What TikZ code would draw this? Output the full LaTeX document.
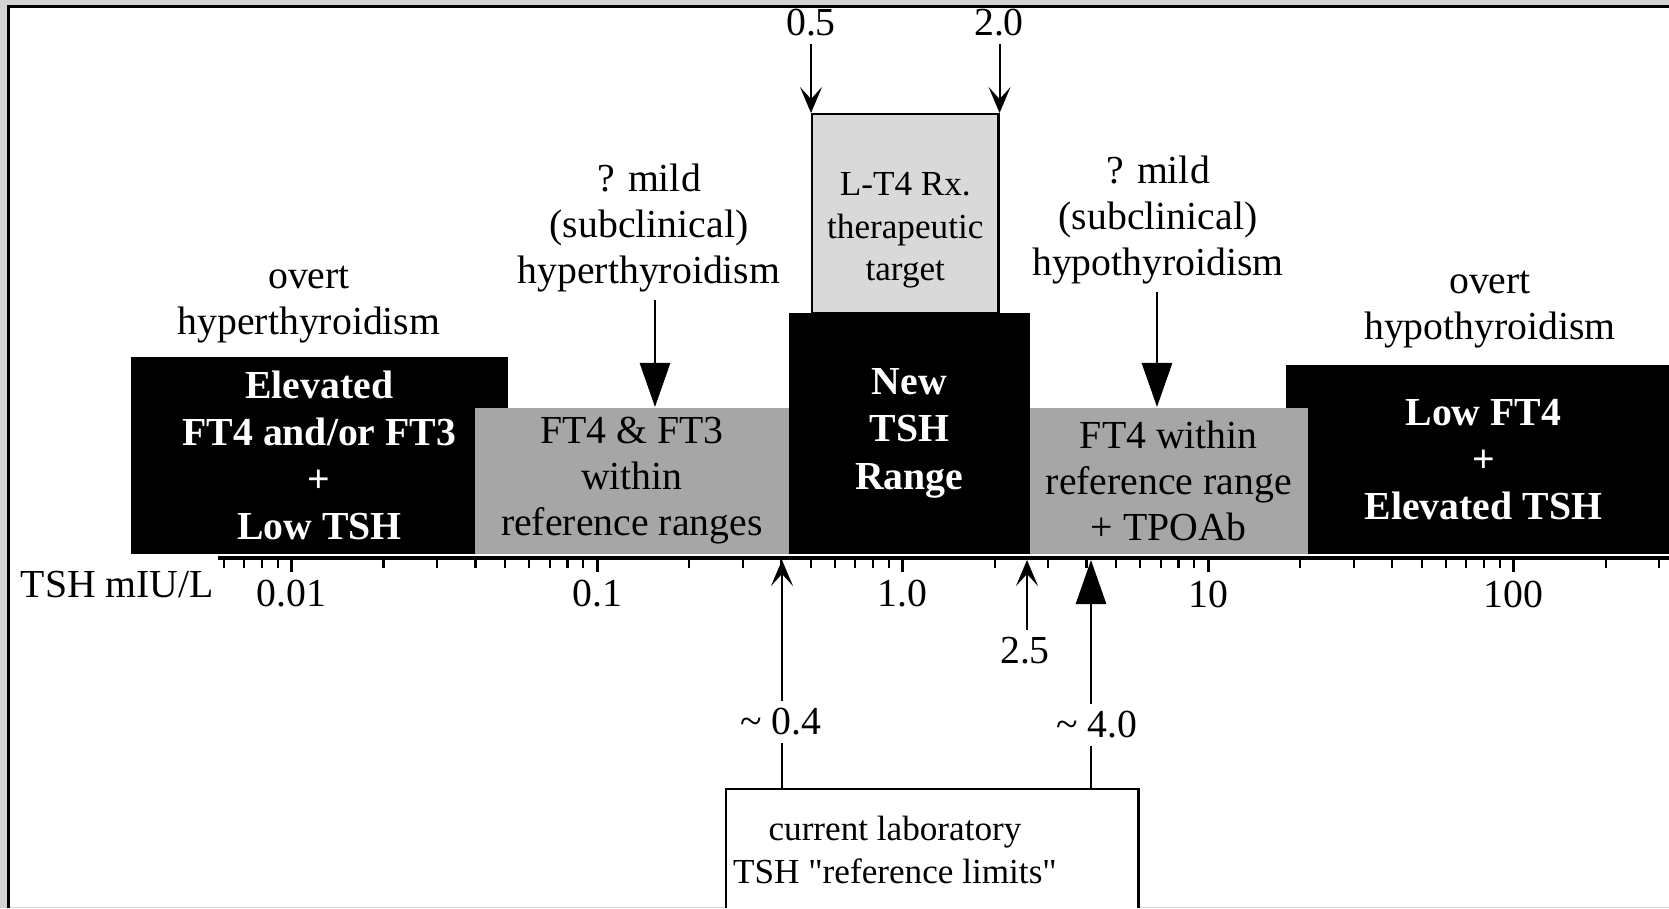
\documentclass[tikz,border=0pt]{standalone}
\usepackage{fontspec}
\setmainfont{Liberation Serif}
\usetikzlibrary{positioning,arrows.meta}
\definecolor{midgray}{gray}{0.65}
\definecolor{ltgray}{gray}{0.85}
\definecolor{framegray}{gray}{0.83}

\begin{document}
\begin{tikzpicture}[x=0.01cm,y=-0.01cm,
txt/.style={font=\fontsize{11.3}{13.1}\selectfont,align=center,inner sep=2pt},
box/.style={anchor=north west,inner sep=0pt,align=center},
blackbox/.style={box,fill=black,text=white,font=\fontsize{11.3}{13.4}\selectfont\bfseries},
graybox/.style={box,fill=midgray,font=\fontsize{11.3}{13.1}\selectfont},
thinarrow/.style={-{Stealth[length=2.6mm,width=2.2mm,inset=1.2mm]},line width=0.6pt},
bigarrow/.style={-{Triangle[length=4.4mm,width=3mm]},line width=0.8pt}]

% frame
\useasboundingbox (0,0) rectangle (1669,908);
\fill[framegray] (0,0) rectangle (1669,908);
\fill[white] (10,8) rectangle (1669,907);
\draw[line width=0.9pt] (8.5,908) -- (8.5,6.5) -- (1669,6.5);
\clip (10,8) rectangle (1669,907);

% range boxes
\node[blackbox,minimum width=3.77cm,minimum height=1.97cm] (hyper) at (130,356) {Elevated\\FT4 and/or FT3\\+\\Low TSH};
\node[blackbox,minimum width=3.95cm,minimum height=1.89cm] (hypo) at (1285,364) {Low FT4\\+\\Elevated TSH};
\node[graybox,minimum width=3.14cm,minimum height=1.46cm] (subhyper) at (474,407) {FT4 \& FT3\\within\\reference ranges};
\node[graybox,minimum width=2.78cm,minimum height=1.46cm] (subhypo) at (1029,407) {FT4 within\\reference range\\+ TPOAb};
\node[blackbox,minimum width=2.41cm,minimum height=2.41cm] (newrange) at (788,312) {New\\TSH\\Range};
\node[box,draw,line width=0.7pt,fill=ltgray,minimum width=1.86cm,minimum height=1.99cm,font=\fontsize{10}{12}\selectfont] (lt4) at (811,113) {\rule{0pt}{16pt}L-T4 Rx.\\therapeutic\\target};

% labels above
\node[txt] (overthyper) at (309,305) {overt\\hyperthyroidism};
\node[txt] (overthypo) at (1490,310) {overt\\hypothyroidism};
\node[txt] (mildhyper) at (649,228) {? mild\\(subclinical)\\hyperthyroidism};
\node[txt] (mildhypo) at (1158,220) {? mild\\(subclinical)\\hypothyroidism};
\coordinate (hypertip) at (655,407);
\coordinate (hypotip) at (1157,407);
\draw[bigarrow] (mildhyper.south -| hypertip) -- (hypertip);
\draw[bigarrow] (mildhypo.south -| hypotip) -- (hypotip);

% therapeutic target
\node[txt] (v05) at (811,23) {0.5};
\node[txt] (v20) at (999,23) {2.0};
\draw[thinarrow] (v05.south -| lt4.north west) -- (lt4.north west);
\draw[thinarrow] (v20.south -| lt4.north east) -- (lt4.north east);

% log axis
\coordinate (axL) at (218,558);
\coordinate (axR) at (1669,558);
\draw[line width=1.15pt] (axL) -- (axR);
\foreach \d in {-3,...,2}
  \foreach \m in {1,...,9}{
    \pgfmathsetmacro{\tx}{902.6+305.5*(\d+log10(\m))}
    \pgfmathtruncatemacro{\ok}{and(\tx>220,\tx<1665)}
    \ifnum\ok=1
      \ifnum\m=1 \draw[line width=0.9pt] (\tx,559) -- (\tx,572);
      \else \draw[line width=0.6pt] (\tx,559) -- (\tx,568); \fi
    \fi
  }
\foreach \v/\lab [count=\i] in {-2/0.01,-1/0.1,0/1.0,1/10,2/100}
  \node[txt] (dec\i) at ({902.6+305.5*(\v)},594) {\lab};
\node[txt,anchor=west] (unit) at (13,585) {TSH mIU/L};

% reference limits
\coordinate (at04) at (782,560);
\coordinate (at25) at (1027,560);
\coordinate (at40) at (1091,560);
\node[txt] (v04) at (781,722) {\textasciitilde{} 0.4};
\node[txt] (v25) at (1025,651) {2.5};
\node[txt] (v40) at (1097,725) {\textasciitilde{} 4.0};
\node[box,draw,fill=white,line width=0.7pt,minimum width=4.12cm,minimum height=1.6cm] (lab) at (725,788) {};
\node[txt,font=\fontsize{10}{12.2}\selectfont] (labtxt) at (895,850) {current laboratory\\TSH \textquotedbl reference limits\textquotedbl};
\draw[thinarrow] (v04.north -| at04) -- (at04);
\draw[line width=0.6pt] (v04.south -| at04) -- (lab.north -| at04);
\draw[thinarrow] (v25.north -| at25) -- (at25);
\draw[bigarrow] (v40.north -| at40) -- (at40);
\draw[line width=0.6pt] (v40.south -| at40) -- (lab.north -| at40);
\end{tikzpicture}
\end{document}
